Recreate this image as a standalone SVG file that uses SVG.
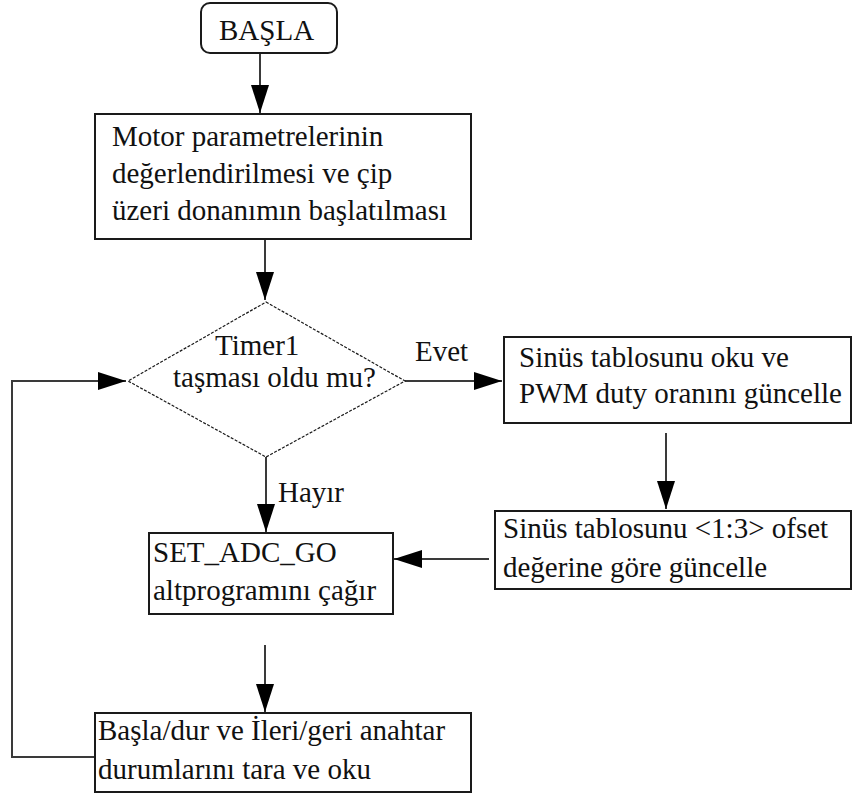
<svg xmlns="http://www.w3.org/2000/svg" width="852" height="799" viewBox="0 0 852 799">
  <style>
    .box { fill: #ffffff; stroke: #1a1a1a; stroke-width: 2; }
    .dec { fill: #ffffff; stroke: #1a1a1a; stroke-width: 1.2; stroke-dasharray: 3 1.5; }
    .txt { font-family: "Liberation Serif", "DejaVu Serif", serif; font-size: 29px; fill: #111111; }
    .con { fill: none; stroke: #3a3a3a; stroke-width: 2; }
  </style>
  <defs>
    <marker id="arrow" markerWidth="28" markerHeight="18" refX="28" refY="9" orient="auto" markerUnits="userSpaceOnUse">
      <path d="M0,0 L28,9 L0,18 Z" fill="#000000"/>
    </marker>
  </defs>
  <rect width="852" height="799" fill="#ffffff"/>

  <!-- connectors -->
  <g id="connectors">
    <line class="con" x1="260" y1="53" x2="260" y2="113" marker-end="url(#arrow)"/>
    <line class="con" x1="265" y1="239" x2="265" y2="300" marker-end="url(#arrow)"/>
    <line class="con" x1="405" y1="381" x2="502" y2="381" marker-end="url(#arrow)"/>
    <line class="con" x1="666" y1="433" x2="666" y2="509" marker-end="url(#arrow)"/>
    <line class="con" x1="266" y1="457" x2="266" y2="532" marker-end="url(#arrow)"/>
    <line class="con" x1="489" y1="559" x2="394" y2="559" marker-end="url(#arrow)"/>
    <line class="con" x1="265" y1="645" x2="265" y2="712" marker-end="url(#arrow)"/>
    <polyline class="con" points="95,757 12,757 12,381 126,381" marker-end="url(#arrow)"/>
    <text class="txt" x="415" y="361">Evet</text>
    <text class="txt" x="278" y="502">Hayır</text>
  </g>

  <g id="start">
    <rect class="box" x="201" y="3" width="136" height="50" rx="9" ry="9"/>
    <text class="txt" x="219" y="40">BAŞLA</text>
  </g>

  <g id="init">
    <rect class="box" x="95" y="114" width="376" height="125"/>
    <text class="txt" x="112" y="146">Motor parametrelerinin</text>
    <text class="txt" x="112" y="183">değerlendirilmesi ve çip</text>
    <text class="txt" x="112" y="220">üzeri donanımın başlatılması</text>
  </g>

  <g id="timer-check">
    <polygon class="dec" points="266,302 405,381 266,457 128,381"/>
    <text class="txt" x="215" y="355">Timer1</text>
    <text class="txt" x="173" y="387">taşması oldu mu?</text>
  </g>

  <g id="pwm-update">
    <rect class="box" x="504" y="337" width="347" height="86"/>
    <text class="txt" x="519" y="367">Sinüs tablosunu oku ve</text>
    <text class="txt" x="519" y="403">PWM duty oranını güncelle</text>
  </g>

  <g id="offset-update">
    <rect class="box" x="495" y="511" width="356" height="78"/>
    <text class="txt" x="503" y="538">Sinüs tablosunu &lt;1:3&gt; ofset</text>
    <text class="txt" x="503" y="577">değerine göre güncelle</text>
  </g>

  <g id="adc-call">
    <rect class="box" x="149" y="533" width="244" height="81"/>
    <text class="txt" x="153" y="562">SET_ADC_GO</text>
    <text class="txt" x="153" y="600">altprogramını çağır</text>
  </g>

  <g id="switch-scan">
    <rect class="box" x="95" y="713" width="376" height="79"/>
    <text class="txt" x="98" y="740">Başla/dur ve İleri/geri anahtar</text>
    <text class="txt" x="98" y="779">durumlarını tara ve oku</text>
  </g>
</svg>
